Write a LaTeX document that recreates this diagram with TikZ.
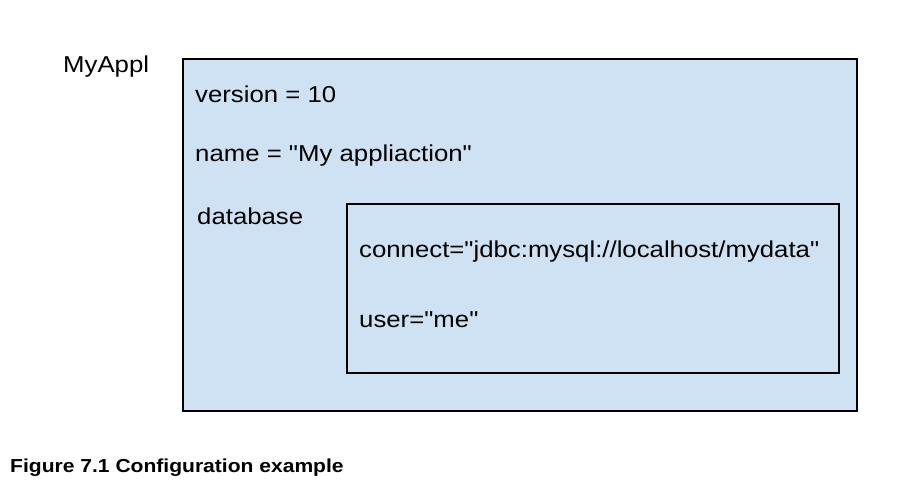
\documentclass[tikz,border=0pt]{standalone}
\usepackage{fontspec}
\setmainfont{Liberation Sans}[FakeStretch=1.12,Ligatures=TeXOff]
\usepackage{tikz}
\usetikzlibrary{positioning}
\usepackage{xcolor}
\definecolor{cfgblue}{RGB}{207,226,243}

\begin{document}
\begin{tikzpicture}[x=1pt,y=-1pt,
box/.style={rectangle,draw=black,line width=1.8pt,fill=cfgblue,anchor=north west,inner sep=0pt},
entry/.style={anchor=base west,inner sep=0pt,font=\fontsize{23}{27}\selectfont},
caption/.style={anchor=base west,inner sep=0pt,font=\fontsize{18.8}{22}\selectfont\bfseries}]

\useasboundingbox (0,0) rectangle (917,483);

\node (appl) [box, minimum width=674pt, minimum height=352pt] at (182,58) {};
\node (db) [box, minimum width=492pt, minimum height=169pt] at (346,203) {};

\node (applname) [entry] at (63,72) {MyAppl};
\node (version) [entry] at (195,102) {version = 10};
\node (name) [entry] at (195,161) {name = "My appliaction"};
\node (database) [entry] at (197,224) {database};
\node (connect) [entry] at (359,257) {connect="jdbc:mysql://localhost/mydata"};
\node (user) [entry] at (359,327) {user="me"};

\node (fig) [caption] at (10,472) {Figure 7.1 Configuration example};

\end{tikzpicture}
\end{document}
